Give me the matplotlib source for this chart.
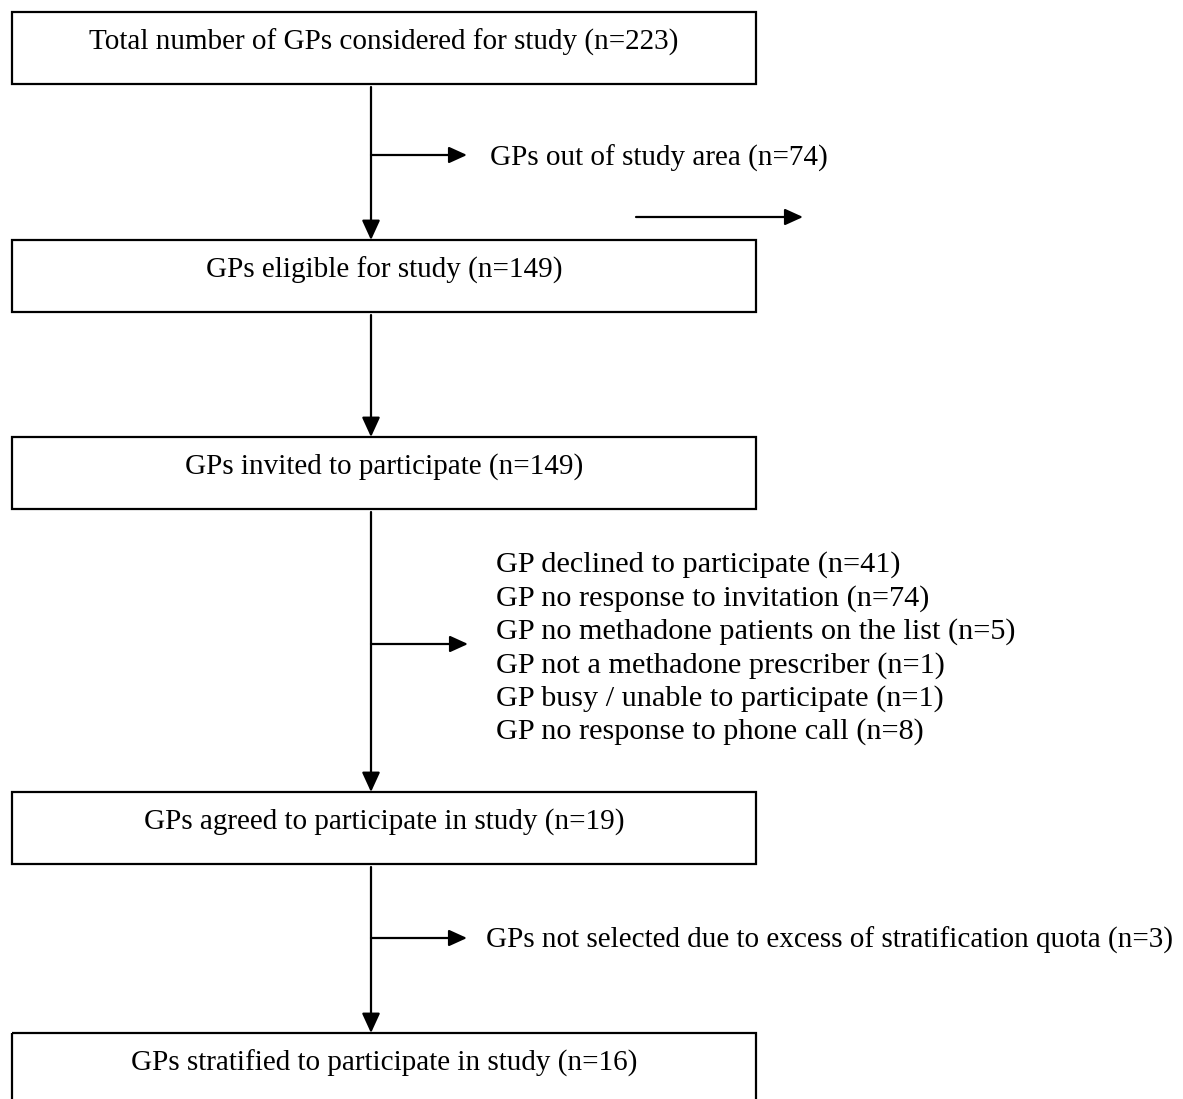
import matplotlib
matplotlib.use("Agg")
import matplotlib.pyplot as plt
from matplotlib.patches import Rectangle, FancyArrowPatch

# flow steps (main column) and counts
box_labels = [
    "Total number of GPs considered for study (n=223)",
    "GPs eligible for study (n=149)",
    "GPs invited to participate (n=149)",
    "GPs agreed to participate in study (n=19)",
    "GPs stratified to participate in study (n=16)",
]
box_counts = [223, 149, 149, 19, 16]

# exclusions between steps
excl_area = ["GPs out of study area (n=74)"]
excl_invite = [
    "GP declined to participate (n=41)",
    "GP no response to invitation (n=74)",
    "GP no methadone patients on the list (n=5)",
    "GP not a methadone prescriber (n=1)",
    "GP busy / unable to participate (n=1)",
    "GP no response to phone call (n=8)",
]
excl_strat = ["GPs not selected due to excess of stratification quota (n=3)"]

W, H = 1183, 1099
fig = plt.figure(figsize=(W / 100, H / 100), dpi=100)
ax = fig.add_axes([0, 0, 1, 1])
ax.set_xlim(0, W)
ax.set_ylim(H, 0)
ax.axis("off")

font = dict(family="Liberation Serif", fontsize=21, color="black")
lw = 1.6

# box geometry (pixel layout)
bx0, bx1 = 12, 756
box_tops = [12, 240, 437, 792, 1033]
box_h = 72
cx = 371

for top, lab in zip(box_tops, box_labels):
    ax.add_patch(Rectangle((bx0, top), bx1 - bx0, box_h, fill=False,
                           edgecolor="black", lw=lw))
    ax.text((bx0 + bx1) / 2, top + 30, lab, ha="center", va="center", **font)


def arrow(x0, y0, x1, y1, hl=1.1, hw=0.5):
    ax.add_patch(FancyArrowPatch((x0, y0), (x1, y1),
                                 arrowstyle=f"-|>,head_length={hl},head_width={hw}",
                                 mutation_scale=10, color="black", lw=lw,
                                 shrinkA=0, shrinkB=0))


# vertical connectors
for i in range(len(box_tops) - 1):
    arrow(cx, box_tops[i] + box_h + 3, cx, box_tops[i + 1], hl=1.2, hw=0.55)

# side branches
arrow(cx, 155, 467, 155)
ax.text(490, 158, excl_area[0], ha="left", va="center", **font)

arrow(636, 217, 803, 217)

arrow(cx, 644, 468, 644)
for k, s in enumerate(excl_invite):
    ax.text(496, 565 + k * 33.4, s, ha="left", va="center",
            family="Liberation Serif", fontsize=21.8, color="black")

arrow(cx, 938, 467, 938)
ax.text(486, 940, excl_strat[0], ha="left", va="center", **font)

fig.savefig("out.png", dpi=100)
